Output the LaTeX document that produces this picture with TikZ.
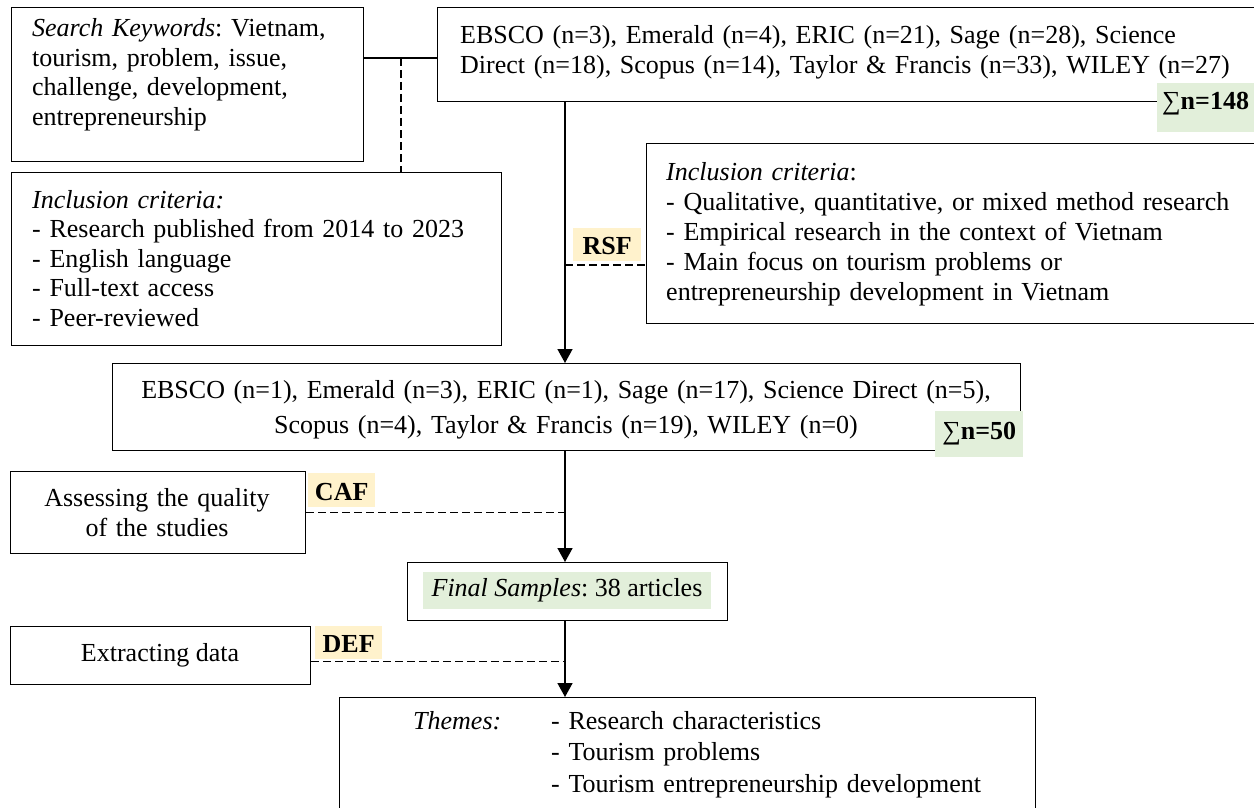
\documentclass[tikz,border=0pt]{standalone}
\usepackage{fontspec}
\setmainfont{Liberation Serif}
\usetikzlibrary{arrows.meta}
\definecolor{lgreen}{HTML}{E2EFDA}
\definecolor{lorange}{HTML}{FFF2CC}
\frenchspacing
\newcommand{\fsz}{\fontsize{26}{29.5}\selectfont}
\tikzset{
  box/.style={draw, line width=1.2pt, inner sep=0pt, anchor=north west},
  txt/.style={inner sep=0pt, anchor=base west, align=left, font=\fsz},
  ctxt/.style={inner sep=0pt, anchor=base, align=center, font=\fsz},
  lab/.style={inner xsep=0pt, inner ysep=0pt, anchor=north west, font=\fsz},
  conn/.style={line width=1.6pt},
  arr/.style={conn, -{Triangle[length=14pt,width=15pt]}},
  dsh/.style={line width=1.3pt, dash pattern=on 8pt off 4pt},
}
\begin{document}
\begin{tikzpicture}[x=1pt,y=-1pt]
\useasboundingbox (0,0) rectangle (1254,808);
\clip (0,0) rectangle (1254,808);
% boxes
\node[box, minimum width=352pt, minimum height=154pt] (kw) at (11,7) {};
\node[box, minimum width=850pt, minimum height=94pt] (db1) at (437,7) {};
\node[box, minimum width=490pt, minimum height=173pt] (ic1) at (11,172) {};
\node[box, minimum width=650pt, minimum height=180pt] (ic2) at (646,143) {};
\node[box, minimum width=908pt, minimum height=87pt] (db2) at (112,363) {};
\node[box, minimum width=295pt, minimum height=82pt] (aq) at (10,471) {};
\node[box, minimum width=320pt, minimum height=58pt] (fin) at (407,562) {};
\node[box, minimum width=300pt, minimum height=58pt] (ex) at (10,626) {};
\node[box, minimum width=696pt, minimum height=140pt] (th) at (339,697) {};
% texts
\node[txt, text width=330pt] (kwt) at (32,37) {\textit{Search Keywords}: Vietnam,\\ tourism, problem, issue,\\ challenge, development,\\ entrepreneurship};
\node[txt, text width=800pt, font=\fontsize{26}{30}\selectfont] (db1t) at (460,44) {EBSCO (n=3), Emerald (n=4), ERIC (n=21), Sage (n=28), Science\\ Direct (n=18), Scopus (n=14), Taylor \& Francis (n=33), WILEY (n=27)};
\node[txt, text width=470pt] (ic1t) at (32,208) {\textit{Inclusion criteria:}\\ - Research published from 2014 to 2023\\ - English language\\ - Full-text access\\ - Peer-reviewed};
\node[txt, text width=600pt, font=\fontsize{26}{30}\selectfont] (ic2t) at (666,180) {\textit{Inclusion criteria}:\\ - Qualitative, quantitative, or mixed method research\\ - Empirical research in the context of Vietnam\\ - Main focus on tourism problems or\\ entrepreneurship development in Vietnam};
\node[ctxt, text width=900pt, font=\fontsize{26}{35}\selectfont] (db2t) at (566,398) {EBSCO (n=1), Emerald (n=3), ERIC (n=1), Sage (n=17), Science Direct (n=5),\\ Scopus (n=4), Taylor \& Francis (n=19), WILEY (n=0)};
\node[ctxt, text width=290pt, font=\fontsize{26}{30}\selectfont] (aqt) at (157,506) {Assessing the quality\\ of the studies};
\node[ctxt] (ext) at (160,661) {Extracting data};
\node[inner sep=0pt, fill=lgreen, minimum width=288pt, minimum height=37pt, font=\fsz] (fint) at (567,590.5) {\textit{Final Samples}: 38 articles};
\node[txt] (tht1) at (413,729) {\textit{Themes:}};
\node[txt, text width=480pt, font=\fontsize{26}{31.5}\selectfont] (tht2) at (551,729) {- Research characteristics\\ - Tourism problems\\ - Tourism entrepreneurship development};
% labels
\node[lab, fill=lgreen, inner xsep=5pt, text height=26pt, text depth=23pt, minimum width=100pt, align=left] (s148) at (1157,83) {∑\textbf{n=148}\hspace*{10pt}};
\node[lab, fill=lgreen, inner xsep=4pt, text height=28pt, text depth=18pt, minimum width=88pt] (s50) at (935,411) {∑\textbf{n=50}};
\node[lab, fill=lorange, text height=26pt, text depth=7pt, minimum width=68pt] (rsf) at (573,228) {\textbf{RSF}};
\node[lab, fill=lorange, text height=27pt, text depth=7pt, minimum width=67pt] (caf) at (308,473) {\textbf{CAF}};
\node[lab, fill=lorange, text height=26pt, text depth=7pt, minimum width=67pt] (def) at (315,626) {\textbf{DEF}};
% helper coordinates
\coordinate (j) at (400,58);
\coordinate (dj) at (401,58);
\coordinate (ax) at (565,0);
\coordinate (ry) at (0,265);
% connectors
\draw[conn] (kw.east |- j) -- (db1.west |- j);
\draw[dsh] (dj) -- (ic1.north -| dj);
\draw[arr] (db1.south -| ax) -- (db2.north -| ax);
\draw[dsh] (ax |- ry) -- (ic2.west |- ry);
\draw[arr] (db2.south -| ax) -- (fin.north -| ax);
\draw[dsh] (aq.east) -- (aq.east -| ax);
\draw[arr] (fin.south -| ax) -- (th.north -| ax);
\draw[dsh] ([yshift=-6pt]ex.east) -- ([yshift=-6pt]ex.east -| ax);
\end{tikzpicture}
\end{document}
